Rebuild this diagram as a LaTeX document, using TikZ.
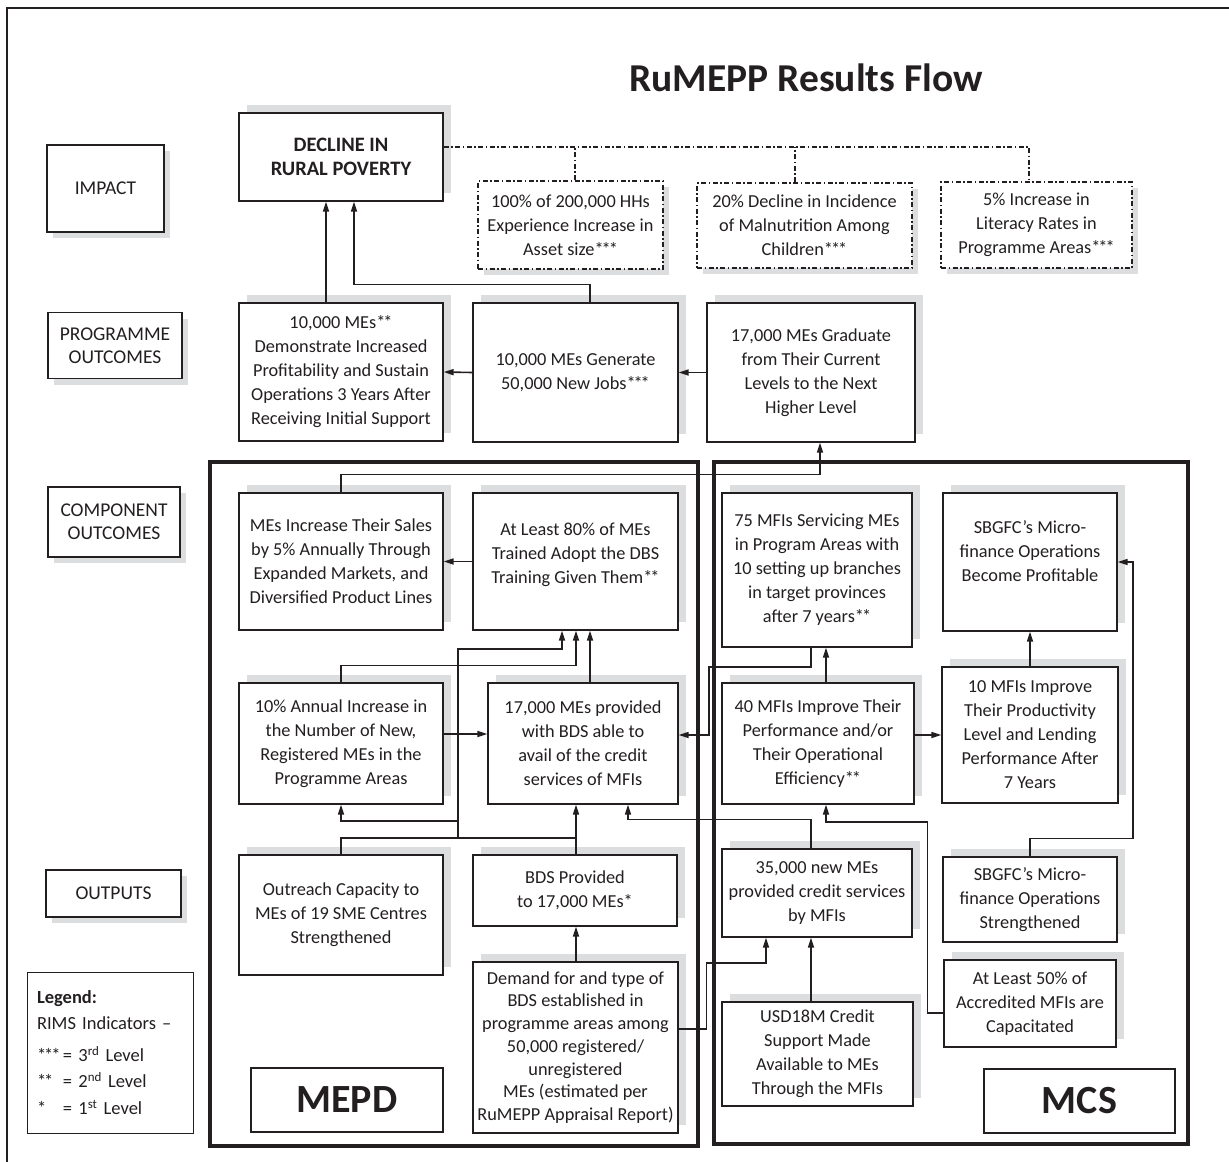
\documentclass[tikz,border=0pt]{standalone}
\usepackage{fontspec}
\setmainfont{Carlito}
\usetikzlibrary{arrows.meta,shadows}
\definecolor{ink}{HTML}{231F20}
\definecolor{shade}{HTML}{DCDDDF}

% tight RIMS level marks
\newcommand{\onestar}{*}
\newcommand{\twostar}{*\kern-2pt*}
\newcommand{\threestar}{*\kern-2pt*\kern-2pt*}

\tikzset{
  box/.style={draw=ink, line width=1.3pt, fill=white, align=center, inner sep=1pt,
    text=ink, font=\fontsize{18.3}{24}\selectfont},
  cbox/.style={box, general shadow={fill=shade, shadow xshift=8pt, shadow yshift=8pt}},
  lbox/.style={box, font=\fontsize{19.5}{23}\selectfont,
    general shadow={fill=shade, shadow xshift=6pt, shadow yshift=-6pt}},
  dbox/.style={box, dash pattern=on 5pt off 2.5pt on 1.5pt off 2.5pt,
    general shadow={fill=shade, shadow xshift=6pt, shadow yshift=-6pt}},
  plain/.style={box},
  ln/.style={draw=ink, line width=1.6pt},
  arr/.style={ln, -{Triangle[length=10pt,width=6pt]}},
  dd/.style={draw=ink, line width=1.3pt, dash pattern=on 5pt off 2.5pt on 1.5pt off 2.5pt},
  unit/.style={draw=ink, line width=4pt},
}

\begin{document}
\begin{tikzpicture}[x=1pt, y=-1pt]
\useasboundingbox (0,0) rectangle (1229,1162);
\fill[white] (0,0) rectangle (1229,1162);

% page rule
\draw[ink, line width=1.2pt] (1229,8) -- (7,8) -- (7,1162);

% title
\node[text=ink, font=\bfseries\fontsize{39.5}{42}\selectfont] (title) at (806,78) {RuMEPP Results Flow};

% level labels
\node[lbox, minimum width=117pt, minimum height=87pt] (lab1) at (105.5,188.5) {IMPACT};
\node[lbox, minimum width=134pt, minimum height=66pt] (lab2) at (115,345.5) {PROGRAMME\\OUTCOMES};
\node[lbox, minimum width=132pt, minimum height=70pt] (lab3) at (114,522) {COMPONENT\\OUTCOMES};
\node[lbox, minimum width=135pt, minimum height=47pt] (lab4) at (113.5,893.5) {OUTPUTS};

% component frames
\draw[unit] (210,462) rectangle (698,1146);
\draw[unit] (714,462) rectangle (1188,1144);

% impact
\node[cbox, minimum width=204pt, minimum height=88pt, font=\bfseries\fontsize{20.5}{24}\selectfont] (decl) at (341,157) {DECLINE IN\\RURAL POVERTY};
\node[dbox, minimum width=185pt, minimum height=88pt] (d1) at (570.5,225) {100\% of 200,000 HHs\\Experience Increase in\\Asset size\threestar};
\node[dbox, minimum width=215pt, minimum height=85pt] (d2) at (804.5,225.5) {20\% Decline in Incidence\\of Malnutrition Among\\Children\threestar};
\node[dbox, minimum width=191pt, minimum height=86pt] (d3) at (1036.5,225) {5\% Increase in\\Literacy Rates in\\Programme Areas\threestar};

% programme outcomes
\node[cbox, minimum width=204pt, minimum height=138pt] (po1) at (341,372) {10,000 MEs\twostar\\Demonstrate Increased\\Profitability and Sustain\\Operations 3 Years After\\Receiving Initial Support};
\node[cbox, minimum width=205pt, minimum height=139pt] (po2) at (575.5,372.5) {10,000 MEs Generate\\50,000 New Jobs\threestar};
\node[cbox, minimum width=208pt, minimum height=139pt] (po3) at (811,372.5) {17,000 MEs Graduate\\from Their Current\\Levels to the Next\\Higher Level};

% component outcomes
\node[cbox, minimum width=204pt, minimum height=137pt] (co1) at (341,561.5) {MEs Increase Their Sales\\by 5\% Annually Through\\Expanded Markets, and\\Diversified Product Lines};
\node[cbox, minimum width=205pt, minimum height=137pt, text depth=17pt] (co2) at (575.5,561.5) {At Least 80\% of MEs\\Trained Adopt the DBS\\Training Given Them\twostar};
\node[cbox, minimum width=204pt, minimum height=121pt] (co3) at (341,743.5) {10\% Annual Increase in\\the Number of New,\\Registered MEs in the\\Programme Areas};
\node[cbox, minimum width=190pt, minimum height=121pt] (co4) at (583,743.5) {17,000 MEs provided\\with BDS able to\\avail of the credit\\services of MFIs};
\node[cbox, minimum width=190pt, minimum height=154pt] (co5) at (817,570) {75 MFIs Servicing MEs\\in Program Areas with\\10 setting up branches\\in target provinces\\after 7 years\twostar};
\node[cbox, minimum width=174pt, minimum height=138pt, text depth=22pt] (co6) at (1030,562) {SBGFC’s Micro-\\finance Operations\\Become Profitable};
\node[cbox, minimum width=192pt, minimum height=121pt] (co7) at (818,743.5) {40 MFIs Improve Their\\Performance and/or\\Their Operational\\Efficiency\twostar};
\node[cbox, minimum width=176pt, minimum height=136pt] (co8) at (1030,735) {10 MFIs Improve\\Their Productivity\\Level and Lending\\Performance After\\7 Years};

% outputs
\node[cbox, minimum width=204pt, minimum height=120pt] (op1) at (341,915) {Outreach Capacity to\\MEs of 19 SME Centres\\Strengthened};
\node[cbox, minimum width=204pt, minimum height=71pt] (op2) at (575,890.5) {BDS Provided\\to 17,000 MEs\onestar};
\node[cbox, minimum width=205pt, minimum height=171pt, font=\fontsize{18.3}{22.7}\selectfont] (op5) at (575.5,1047.5) {Demand for and type of\\BDS established in\\programme areas among\\50,000 registered/\\unregistered\\MEs (estimated per\\RuMEPP Appraisal Report)};
\node[cbox, minimum width=190pt, minimum height=88pt] (op3) at (817,893) {35,000 new MEs\\provided credit services\\by MFIs};
\node[cbox, minimum width=191pt, minimum height=104pt] (op6) at (817.5,1054) {USD18M Credit\\Support Made\\Available to MEs\\Through the MFIs};
\node[cbox, minimum width=174pt, minimum height=85pt] (op4) at (1030,899.5) {SBGFC’s Micro-\\finance Operations\\Strengthened};
\node[cbox, minimum width=172pt, minimum height=87pt] (op7) at (1030,1003.5) {At Least 50\% of\\Accredited MFIs are\\Capacitated};

% component names
\node[plain, minimum width=192pt, minimum height=64pt, font=\bfseries\fontsize{40}{42}\selectfont] (mepd) at (347,1100) {MEPD};
\node[plain, minimum width=191pt, minimum height=64pt, font=\bfseries\fontsize{40}{42}\selectfont] (mcs) at (1079.5,1101) {MCS};

% legend
\node[plain, line width=1pt, minimum width=166pt, minimum height=161pt, text width=146pt, align=left,
  font=\fontsize{18.5}{26.5}\selectfont] (legend) at (110,1052.5)
  {\textbf{Legend:}\\RIMS Indicators –\\[5pt]
   \makebox[26pt][l]{\threestar}=\ 3\textsuperscript{rd} Level\\
   \makebox[26pt][l]{\twostar}=\ 2\textsuperscript{nd} Level\\
   \makebox[26pt][l]{\onestar}=\ 1\textsuperscript{st} Level};

% impact indicators bus
\coordinate (bus) at (0,147);
\draw[dd] ([yshift=10pt]decl.east) -- ([xshift=-7.5pt]d3.north |- bus) -- ([xshift=-7.5pt]d3.north);
\draw[dd] ([xshift=4.5pt]d1.north) -- ([xshift=4.5pt]d1.north |- bus);
\draw[dd] ([xshift=-9.5pt]d2.north) -- ([xshift=-9.5pt]d2.north |- bus);

% programme outcomes to impact
\draw[arr] ([xshift=-15pt]po1.north) -- ([xshift=-15pt]po1.north |- decl.south);
\draw[arr] ([xshift=14.5pt]po2.north) -- ++(0,-18) -| ([xshift=13pt]decl.south);
\draw[arr] (po2.west) -- (po1.east);
\draw[arr] (po3.west) -- (po2.west -| po2.east);

% component outcomes to programme outcomes
\draw[arr] (co1.north) -- ++(0,-18) -| ([xshift=9pt]po3.south);
\draw[arr] (co2.west) -- (co1.east);
\draw[arr] ([xshift=7pt]co4.north) -- ([xshift=14.5pt]co2.south);
\draw[arr] (co3.north) -- ++(0,-17) -| ([xshift=0.5pt]co2.south);
\draw[arr] ([yshift=9.5pt]co3.east) -- ([yshift=9.5pt]co3.east -| co4.west);

% outputs of the MEPD unit
\coordinate (j1) at (458,838);
\coordinate (j2) at (458,821);
\coordinate (j3) at (458,649);
\draw[ln] (op1.north) |- (j1);
\draw[ln] (j1) -- (j1 -| op2.north);
\draw[arr] ([xshift=1pt]op2.north) -- ([xshift=1pt]op2.north |- co4.south);
\draw[arr] (j2) -| (co3.south);
\draw[arr] (j1) -- (j3) -| ([xshift=-13.5pt]co2.south);
\draw[arr] ([xshift=0.5pt]op5.north) -- ([xshift=1pt]op2.south);
\draw[arr] ([yshift=18.5pt]op5.east) -- ++(28,0) -- ++(0,-66) -| ([xshift=-51pt]op3.south);

% MCS unit
\draw[arr] ([xshift=8pt]co7.north) -- ([xshift=8pt]co7.north |- co5.south);
\draw[arr] (co8.west -| co7.east) -- (co8.west);
\draw[arr] (co8.north) -- (co6.south);
\coordinate (k1) at (709,667);
\draw[arr] ([xshift=-6pt]co5.south) |- (k1) |- ([yshift=8.5pt]co4.east);
\draw[arr] ([xshift=-6pt]op3.north) -- ++(0,-29) -| ([xshift=45pt]co4.south);
\draw[arr] ([xshift=-6.5pt]op6.north) -- ([xshift=-6.5pt]op6.north |- op3.south);
\draw[arr] ([yshift=-9.5pt]op7.west) -- ++(-16,0) -- ++(0,-191) -| ([xshift=8pt]co7.south);
\draw[arr] (op4.north) -- ++(0,-18) -- ++(103,0) |- (co6.east);
\end{tikzpicture}
\end{document}
